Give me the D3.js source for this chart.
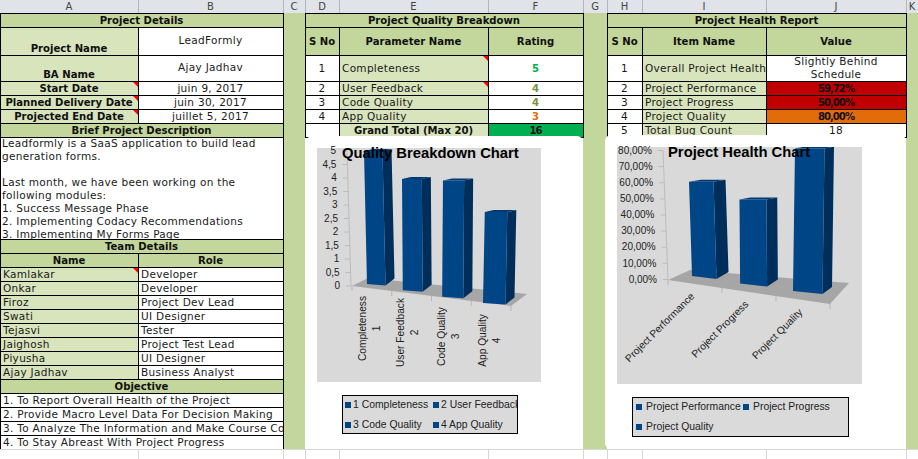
<!DOCTYPE html>
<html><head><meta charset="utf-8">
<script src="https://cdn.jsdelivr.net/npm/d3@7"></script>
<style>
html,body{margin:0;padding:0;background:#fff;overflow:hidden}
svg{display:block}
.c{font-family:"DejaVu Sans",Verdana,sans-serif;font-size:10.5px;letter-spacing:.3px;fill:#1a1a1a}
.b{font-weight:bold;font-size:10.1px;letter-spacing:0;fill:#111}
.tight{font-size:10.1px;letter-spacing:-1px}
.ch{font-family:"Liberation Sans",Arial,sans-serif;font-size:10px;fill:#222}
</style></head><body>
<svg id="s" width="918" height="459"></svg>
<script>
// ---------- data ----------
const columnLetters = ["A","B","C","D","E","F","G","H","I","J","K"];
const detailLabels = ["Project Name","BA Name","Start Date","Planned Delivery Date","Projected End Date"];
const detailValues = ["LeadFormly","Ajay Jadhav","juin 9, 2017","juin 30, 2017","juillet 5, 2017"];
const descriptionLines = ["Leadformly is a SaaS application to build lead","generation forms.","","Last month, we have been working on the","following modules:","1. Success Message Phase","2. Implementing Codacy Recommendations","3. Implementing My Forms Page"];
const teamNames = ["Kamlakar","Onkar","Firoz","Swati","Tejasvi","Jaighosh","Piyusha","Ajay Jadhav"];
const teamRoles = ["Developer","Developer","Project Dev Lead","UI Designer","Tester","Project Test Lead","UI Designer","Business Analyst"];
const objectives = ["1. To Report Overall Health of the Project","2. Provide Macro Level Data For Decision Making","3. To Analyze The Information and Make Course Correction","4. To Stay Abreast With Project Progress"];
const qualityNames = ["Completeness","User Feedback","Code Quality","App Quality"];
const qualityNumbers = [1,2,3,4];
const qualityRatings = [5,4,4,3];
const qualityTotal = 16;
const qualityTicks = [0,0.5,1,1.5,2,2.5,3,3.5,4,4.5,5];
const healthItems = ["Overall Project Health","Project Performance","Project Progress","Project Quality","Total Bug Count"];
const healthText = ["Slightly Behind|Schedule","59,72%","50,00%","80,00%","18"];
const healthNames = ["Project Performance","Project Progress","Project Quality"];
const healthValues = [59.72,50,80];
const healthTicks = [0,10,20,30,40,50,60,70,80];

// ---------- palette ----------
const GREEN="#c3d69b", LIGHT="#d8e4bc", BLUE="#004586", SIDE="#002e5b", TOP="#003a72";
const ratingColor = v => v>=5 ? "#00b050" : v>=4 ? "#76933c" : "#e36c09";

// ---------- sheet geometry ----------
const X = {A:0,B:138,C:283,D:305,E:339,F:488,G:583,H:607,I:642,J:766,K:906,END:918};
const svg = d3.select("#s");
const defs = svg.append("defs");
function rect(p,x,y,w,h,f,st){return p.append("rect").attr("x",x).attr("y",y).attr("width",w).attr("height",h).attr("fill",f).attr("stroke",st||"none").attr("shape-rendering","crispEdges");}
function clip(id,x,y,w,h){defs.append("clipPath").attr("id",id).append("rect").attr("x",x).attr("y",y).attr("width",w).attr("height",h);}
const page = svg.append("g");

// column header strip
rect(page,0,0,918,13,"#e0e3e8");
rect(page,0,13,918,1,"#9ea2a7");
const edges=[X.B,X.C,X.D,X.E,X.F,X.G,X.H,X.I,X.J,X.K];
page.selectAll(".hs").data(edges).join("line").attr("x1",d=>d+.5).attr("x2",d=>d+.5).attr("y1",0).attr("y2",13).attr("stroke","#b2b6bc");
const cols=[X.A,X.B,X.C,X.D,X.E,X.F,X.G,X.H,X.I,X.J,X.K,X.END];
page.selectAll(".hl").data(columnLetters).join("text").attr("class","c")
  .attr("x",(d,i)=>(cols[i]+cols[i+1])/2).attr("y",10).attr("text-anchor","middle").style("fill","#444").style("font-size","10px").style("letter-spacing","0").text(d=>d);

// spare grid below the sheet
const below=svg.append("g");
below.selectAll("line").data(edges).join("line").attr("x1",d=>d+.5).attr("x2",d=>d+.5).attr("y1",449).attr("y2",459).attr("stroke","#d6d6d6");
below.append("line").attr("x1",0).attr("x2",918).attr("y1",449.5).attr("y2",449.5).attr("stroke","#d6d6d6");

// green gutters
[[X.C,X.D],[X.G,X.H],[X.K,X.END]].forEach(([a,b])=>rect(page,a,13,b-a,436,GREEN));

function cell(x0,x1,y0,y1,o){
  o=o||{};
  const g=page.append("g");
  rect(g,x0+.5,y0+.5,x1-x0,y1-y0,o.fill||"#fff","#000");
  if(o.tri) g.append("path").attr("d",`M${x1-5},${y0+1}L${x1},${y0+1}L${x1},${y0+6}Z`).attr("fill","#ff0000");
  if(o.text!==undefined){
    const lines=String(o.text).split("|");
    const id="cl"+Math.round(x0)+"_"+Math.round(y0);
    clip(id,x0,y0,x1-x0,(o.clipH||y1-y0));
    const anchor=o.left?"start":"middle";
    const tx=o.left?x0+3:(x0+x1)/2;
    const by=o.base!==undefined?o.base:(y0+y1)/2+3.5;
    const t=g.append("g").attr("clip-path",`url(#${id})`);
    lines.forEach((l,k)=>{
      t.append("text").attr("class","c"+(o.bold?" b":"")+(o.tight?" tight":"")).attr("x",tx).attr("y",by+k*13-(lines.length-1)*6.5)
       .attr("text-anchor",anchor).style("fill",o.color||null).text(l);
    });
  }
}

// table 1: project details
cell(X.A,X.C,13,27,{fill:GREEN,text:"Project Details",bold:true});
const detailY=[27,55,81,95,109,123];
detailLabels.forEach((d,i)=>{
  cell(X.A,X.B,detailY[i],detailY[i+1],{fill:LIGHT,text:d,bold:true,base:i<2?detailY[i+1]-3:undefined,tri:i>=2});
  cell(X.B,X.C,detailY[i],detailY[i+1],{text:detailValues[i],base:i<2?(detailY[i]+detailY[i+1])/2+3:undefined});
});
cell(X.A,X.C,123,137,{fill:GREEN,text:"Brief Project Description",bold:true});
rect(page,X.A+.5,137.5,X.C-X.A,102,"#fff","#000");
clip("desc",0,138,283,101);
const desc=page.append("g").attr("clip-path","url(#desc)");
desc.selectAll("text").data(descriptionLines).join("text").attr("class","c").attr("x",2).attr("y",(d,i)=>147+i*13).text(d=>d);
cell(X.A,X.C,239,253,{fill:GREEN,text:"Team Details",bold:true});
cell(X.A,X.B,253,267,{fill:GREEN,text:"Name",bold:true});
cell(X.B,X.C,253,267,{fill:GREEN,text:"Role",bold:true});
teamNames.forEach((d,i)=>{
  const y=267+i*14;
  cell(X.A,X.B,y,y+14,{fill:LIGHT,text:d,left:true,tri:i===0});
  cell(X.B,X.C,y,y+14,{text:teamRoles[i],left:true});
});
cell(X.A,X.C,379,393,{fill:GREEN,text:"Objective",bold:true});
objectives.forEach((d,i)=>{const y=393+i*14;cell(X.A,X.C,y,y+14,{text:d,left:true});});

// table 2 / table 3
const rowY=[55,81,95,109,123];
cell(X.D,X.G,13,27,{fill:GREEN,text:"Project Quality Breakdown",bold:true});
[[X.D,X.E,"S No"],[X.E,X.F,"Parameter Name"],[X.F,X.G,"Rating"]].forEach(c=>cell(c[0],c[1],27,55,{fill:GREEN,text:c[2],bold:true}));
qualityNames.forEach((d,i)=>{
  cell(X.D,X.E,rowY[i],rowY[i+1],{text:qualityNumbers[i]});
  cell(X.E,X.F,rowY[i],rowY[i+1],{fill:LIGHT,text:d,left:true,tri:i<2});
  cell(X.F,X.G,rowY[i],rowY[i+1],{text:qualityRatings[i],bold:true,color:ratingColor(qualityRatings[i])});
});
cell(X.D,X.E,123,137,{});
cell(X.E,X.F,123,137,{fill:LIGHT,text:"Grand Total (Max 20)",bold:true});
cell(X.F,X.G,123,137,{fill:"#00b050",text:qualityTotal,bold:true,tight:true});

cell(X.H,X.K,13,27,{fill:GREEN,text:"Project Health Report",bold:true});
[[X.H,X.I,"S No"],[X.I,X.J,"Item Name"],[X.J,X.K,"Value"]].forEach(c=>cell(c[0],c[1],27,55,{fill:GREEN,text:c[2],bold:true}));
const healthFill=[null,"#c00000","#c00000","#e26b0a",null];
healthItems.forEach((d,i)=>{
  const y0=rowY[i],y1=i<4?rowY[i+1]:137;
  cell(X.H,X.I,y0,y1,{text:i+1});
  cell(X.I,X.J,y0,y1,{fill:LIGHT,text:d,left:true});
  cell(X.J,X.K,y0,y1,{fill:healthFill[i]||"#fff",text:healthText[i],bold:!!healthFill[i],tight:!!healthFill[i]});
});

// ---------- 3-D column charts ----------
function chart(cfg){
  const g=svg.append("g");
  g.append("rect").attr("x",cfg.area[0]).attr("y",cfg.area[1]).attr("width",cfg.area[2]).attr("height",cfg.area[3]).attr("rx",6).attr("fill","#fff");
  rect(g,cfg.plot[0],cfg.plot[1],cfg.plot[2],cfg.plot[3],"#d9d9d9");

  const n=cfg.values.length, dom=[0,n-1];
  const frontX=d3.scalePow().exponent(1.07).domain(dom).range(cfg.frontX);
  const baseY=d3.scaleLinear().domain(dom).range(cfg.baseY);
  const unit=d3.scaleLinear().domain(dom).range(cfg.unit);
  const width=d3.scaleLinear().domain(dom).range(cfg.width);
  const lean=d3.scaleLinear().domain(dom).range(cfg.lean);
  const depth=d3.scaleLinear().domain(dom).range(cfg.depth);
  const axisY=d3.scaleLinear().domain(cfg.domain).range(cfg.axisY);
  const wallX=d3.scaleLinear().domain(cfg.domain).range(cfg.wallX);

  // floor
  g.append("polygon").attr("points",cfg.floor.map(p=>p.join(",")).join(" ")).attr("fill","#a6a6a6");
  const front=d3.scaleLinear().domain([0,1]);
  const fx=front.copy().range([cfg.floor[0][0],cfg.floor[3][0]]), fy=front.copy().range([cfg.floor[0][1],cfg.floor[3][1]]);
  const floorTicks=d3.range(n+1).map(i=>i/n);
  g.selectAll(".ft").data(floorTicks).join("line").attr("x1",fx).attr("x2",fx).attr("y1",fy).attr("y2",d=>fy(d)+5).attr("stroke","#b5b5b5");
  g.append("line").attr("x1",wallX(cfg.domain[0])).attr("y1",axisY(cfg.domain[0])).attr("x2",wallX(cfg.domain[1])).attr("y2",axisY(cfg.domain[1])).attr("stroke","#bcbcbc");

  // value axis
  const ax=g.append("g").call(d3.axisLeft(axisY).tickValues(cfg.ticks).tickFormat(cfg.fmt).tickSize(5).tickPadding(6));
  ax.select(".domain").remove();
  ax.selectAll(".tick").attr("transform",d=>`translate(${wallX(d)},${axisY(d)})`);
  ax.selectAll("line").attr("stroke","#bcbcbc");
  ax.selectAll("text").attr("class","ch").attr("fill",null);

  // columns
  const cid="plot"+cfg.id;
  clip(cid,cfg.plot[0],cfg.plot[1],cfg.plot[2],cfg.plot[3]);
  const bars=g.append("g").attr("clip-path",`url(#${cid})`);
  cfg.values.forEach((v,i)=>{
    const u=v/cfg.step, w=width(i), d=depth(i);
    const bl=[frontX(i),baseY(i)], br=[bl[0]+w,bl[1]+cfg.slant];
    const tl=[bl[0]+lean(i)*u,bl[1]-unit(i)*u], tr=[tl[0]+w,tl[1]];
    const tbr=[tr[0]+d,tr[1]-2], bbr=[br[0]+d,br[1]-cfg.backRise], tbl=[tl[0]+d,tl[1]-2];
    const poly=(pts,f)=>bars.append("polygon").attr("points",pts.map(p=>p.join(",")).join(" ")).attr("fill",f);
    poly([tr,tbr,bbr,br],SIDE);
    poly([tl,tbl,tbr,tr],TOP);
    poly([tl,tr,br,bl],BLUE);
  });

  // title
  g.append("text").attr("x",cfg.title[1]).attr("y",cfg.title[2]).style("font","bold 14.8px 'Liberation Sans',Arial,sans-serif").style("fill","#000").text(cfg.title[0]);
  return {g};
}

const q=chart({id:1,area:[306,136,277,313],plot:[317,148,224,234],values:qualityRatings,step:1,
  frontX:[367,483],baseY:[284,303],unit:[26.6,30.3],width:[18.5,22.5],lean:[-0.6,0.6],depth:[9,9],slant:1.5,backRise:7,
  domain:[0,5],axisY:[286,151],wallX:[351,347],ticks:qualityTicks,fmt:d=>String(d).replace(".",","),
  floor:[[352,286],[368,278],[527,294],[511,306]],title:["Quality Breakdown Chart",342,158]});
const h=chart({id:2,area:[605,135,301,314],plot:[617,147,245,237],values:healthValues,step:1,
  frontX:[692,793],baseY:[276,291],unit:[1.58,1.78],width:[24.5,29.5],lean:[-0.05,0.025],depth:[12,9.5],slant:3,backRise:7,
  domain:[0,80],axisY:[279.5,150.5],wallX:[668,663],ticks:healthTicks,fmt:d=>d3.format(".2f")(d).replace(".",",")+"%",
  floor:[[668,280],[690,270],[849,283],[830,304]],title:["Project Health Chart",668,157]});

// category labels
const qx=d3.scalePow().exponent(1.03).domain([0,3]).range([362,482]);
const qy=d3.scaleLinear().domain([0,3]).range([328.5,340.5]);
qualityNames.forEach((d,i)=>{
  q.g.append("text").attr("class","ch").attr("text-anchor","middle").attr("transform",`translate(${qx(i)+3.5},${qy(i)}) rotate(-90)`).style("font-size","10.2px").text(d);
  q.g.append("text").attr("class","ch").attr("text-anchor","middle").attr("transform",`translate(${qx(i)+17.5},${qy(i)}) rotate(-90)`).style("font-size","10.2px").text(qualityNumbers[i]);
});
const hx=d3.scaleLinear().domain([0,2]).range([695,803]);
const hy=d3.scaleLinear().domain([0,2]).range([297,313]);
healthNames.forEach((d,i)=>{
  h.g.append("text").attr("class","ch").attr("text-anchor","end").attr("transform",`translate(${hx(i)},${hy(i)}) rotate(-45)`).style("font-size","10.2px").text(d);
});

// legends
function legend(g,id,box,items){
  rect(g,box[0]+.5,box[1]+.5,box[2],box[3],"#dadada","#000");
  clip(id,box[0],box[1],box[2],box[3]);
  const l=g.append("g").attr("clip-path",`url(#${id})`);
  const it=l.selectAll("g").data(items).join("g");
  it.append("rect").attr("x",d=>d.x).attr("y",d=>d.y-6).attr("width",6).attr("height",6).attr("fill",BLUE);
  it.append("text").attr("class","ch").attr("x",d=>d.x+d.gap).attr("y",d=>d.y).style("font-size","10.4px").text(d=>d.t);
}
const slotX=[345,433], slotY=[408,428];
legend(q.g,"lq",[342,395,175,38],qualityNames.map((d,i)=>({t:qualityNumbers[i]+" "+d,x:slotX[i%2],y:slotY[Math.floor(i/2)],gap:8})));
const slot2=[[636,410],[743,410],[636,430]];
legend(h.g,"lh",[632,397,216,39],healthNames.map((d,i)=>({t:d,x:slot2[i][0],y:slot2[i][1],gap:10})));
</script>
</body></html>
